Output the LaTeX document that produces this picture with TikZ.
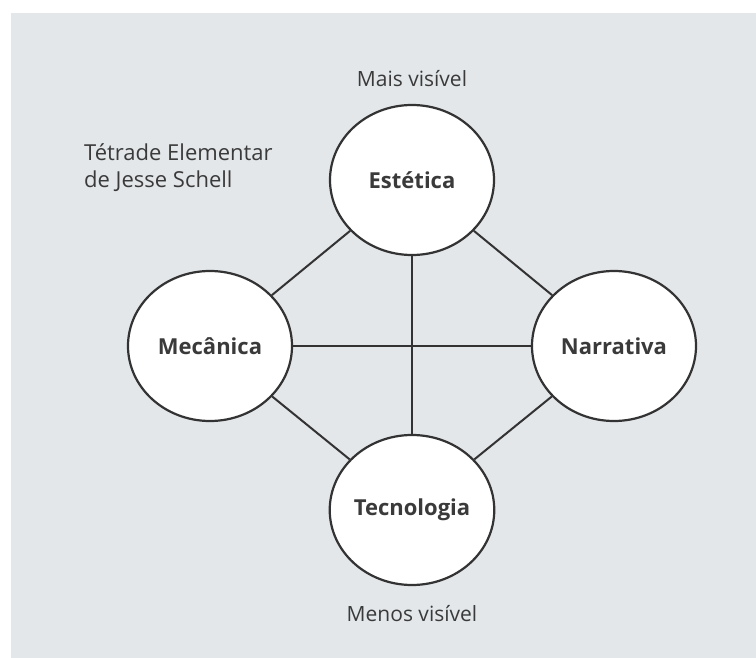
\documentclass[tikz,border=0pt]{standalone}
\usepackage{fontspec}
\setmainfont{Open Sans}
\usetikzlibrary{shapes.geometric}
\definecolor{fundo}{HTML}{E3E7EA}
\definecolor{traco}{HTML}{333333}
\definecolor{texto}{HTML}{3A3A3A}

\begin{document}
\begin{tikzpicture}[x=1pt, y=-1pt,
		elemento/.style={ellipse, draw=traco, line width=2.2pt, fill=white, minimum width=164pt, minimum height=150pt, inner sep=0pt, font=\fontsize{22}{26}\selectfont\bfseries, text=texto},
		legenda/.style={font=\fontsize{21}{25}\selectfont, text=texto, inner sep=0pt},
		ligacao/.style={draw=traco, line width=2pt}]

		\useasboundingbox (0,0) rectangle (756,658);
		\fill [fundo] (11,13) rectangle (756,658);

		\node [legenda, anchor=base] (mais) at (412,87) {Mais visível};
		\node [legenda, anchor=base] (menos) at (412,621) {Menos visível};
		\node [legenda, anchor=base west, font=\fontsize{22}{26}\selectfont] (titulo) at (84,161) {Tétrade Elementar};
		\node [legenda, anchor=base west, font=\fontsize{22}{26}\selectfont] (autor) at (84,188) {de Jesse Schell};

		% os quatro elementos
		\node [elemento] (estetica) at (412,180) {Estética};
		\node [elemento] (mecanica) at (210,346) {Mecânica};
		\node [elemento] (narrativa) at (614,346) {Narrativa};
		\node [elemento] (tecnologia) at (412,510) {Tecnologia};

		\draw [ligacao] (estetica) -- (mecanica);
		\draw [ligacao] (estetica) -- (narrativa);
		\draw [ligacao] (estetica) -- (tecnologia);
		\draw [ligacao] (mecanica) -- (narrativa);
		\draw [ligacao] (mecanica) -- (tecnologia);
		\draw [ligacao] (narrativa) -- (tecnologia);
\end{tikzpicture}
\end{document}
